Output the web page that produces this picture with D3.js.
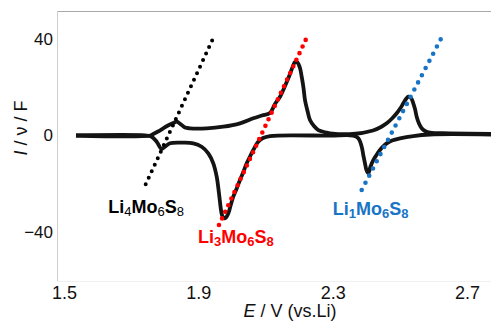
<!DOCTYPE html>
<html>
<head>
<meta charset="utf-8">
<script src="https://cdn.jsdelivr.net/npm/d3@7"></script>
<style>
  body { margin: 0; background: #fff; }
  text { font-family: "Liberation Sans", Arial, sans-serif; }
</style>
</head>
<body>
<svg id="cv"></svg>
<script>
// tick values
var xTicks = [1.5, 1.9, 2.3, 2.7];
var yTicks = [40, 0, -40];

// anodic sweep (left -> right): potential (V), current I/v/F
var anodicE = [1.5357, 1.7561, 1.7659, 1.780, 1.7957, 1.8097, 1.8255, 1.8356, 1.8424, 1.8505, 1.8603, 1.8752,
  1.9249, 1.9743, 2.0241, 2.0637, 2.0896, 2.1134, 2.1283, 2.1432, 2.1581, 2.1730, 2.1819, 2.1879, 2.1953,
  2.2027, 2.2078, 2.2132, 2.2176, 2.2251, 2.2325, 2.2444, 2.2572, 2.2772, 2.2921, 2.3606, 2.4201, 2.4439,
  2.4609, 2.4767, 2.4907, 2.5020, 2.5104, 2.5184, 2.5252, 2.5333, 2.5401, 2.5452, 2.5502, 2.5571, 2.5651,
  2.5749, 2.5898, 2.6494, 2.7715];
var anodicI = [0, 0, 0.62, 1.66, 2.99, 4.15, 5.19, 5.73, 5.19, 4.36, 3.32, 2.99,
  2.99, 3.65, 5.06, 7.14, 8.30, 9.34, 13.07, 16.10, 20.54, 25.52, 28.84, 30.50, 30.29,
  28.01, 24.40, 19.71, 14.73, 10.17, 6.43, 3.94, 2.28, 1.33, 0.91, 0.62, 2.07, 3.53,
  5.06, 7.05, 9.21, 11.41, 13.36, 15.15, 16.10, 15.56, 13.36, 11.00, 7.80, 4.98, 2.99,
  1.87, 1.16, 0.91, 0.62];

// cathodic sweep (right -> left)
var cathodicE = [2.7715, 2.5898, 2.5401, 2.5005, 2.4767, 2.4609, 2.4499, 2.4409, 2.4305, 2.4210, 2.4127,
  2.4061, 2.4007, 2.3963, 2.3912, 2.3865, 2.3764, 2.3615, 2.2921, 2.1134, 2.0926, 2.0777, 2.0637, 2.0539,
  2.0441, 2.0340, 2.0241, 2.0143, 2.0041, 1.9958, 1.9893, 1.9824, 1.9764, 1.9705, 1.9675, 1.9615, 1.9547,
  1.9446, 1.9297, 1.9100, 1.8850, 1.8552, 1.8156, 1.8007, 1.7909, 1.7760, 1.7611, 1.7412, 1.5357];
var cathodicI = [0.41, 0.41, -0.21, -1.16, -2.07, -3.24, -4.56, -6.02, -8.09, -10.17, -12.86,
  -15.68, -14.32, -11.54, -8.09, -4.65, -1.16, -0.08, -0.08, -0.21, -1.04, -2.70, -6.02, -8.71,
  -11.54, -15.15, -18.46, -21.99, -25.39, -29.25, -32.28, -34.02, -34.36, -32.99, -30.91, -23.98, -17.10,
  -11.54, -7.39, -4.65, -3.24, -2.99, -3.24, -4.65, -5.6, -2.57, -0.50, 0, 0];

// guide lines: start/end potential and current
var guideNames = ["Li4", "Li3", "Li1"];
var guideE = [[1.7433, 1.9496], [1.9615, 2.2275], [2.3865, 2.6295]];
var guideI = [[-20.25, 41.99], [-37.14, 41.99], [-22.61, 41.99]];

var width = 491, height = 323;
var mLeft = 57, mTop = 11, mBottom = 281;

var svg = d3.select("#cv")
    .attr("width", width)
    .attr("height", height);

var x = d3.scaleLinear().domain([1.4792, 2.7715]).range([mLeft, width]);
var y = d3.scaleLinear().domain([-60.37, 51.66]).range([mBottom, mTop]);

// frame
svg.append("line").attr("x1", mLeft).attr("x2", width).attr("y1", mTop + 0.5).attr("y2", mTop + 0.5)
    .style("stroke", "#a8a8a8").style("stroke-width", 1.2);
svg.append("line").attr("x1", mLeft + 0.5).attr("x2", mLeft + 0.5).attr("y1", mTop).attr("y2", mBottom)
    .style("stroke", "#cfcfcf").style("stroke-width", 1);
svg.append("line").attr("x1", mLeft).attr("x2", width).attr("y1", mBottom + 0.5).attr("y2", mBottom + 0.5)
    .style("stroke", "#f0f0f0").style("stroke-width", 1);

var xAxis = d3.axisBottom(x).tickValues(xTicks).tickSize(0).tickPadding(5)
    .tickFormat(d3.format(".1f"));
var yAxis = d3.axisLeft(y).tickValues(yTicks).tickSize(0).tickPadding(4);

svg.append("g")
    .attr("transform", "translate(0," + mBottom + ")")
    .call(xAxis)
    .call(function(g) { g.select(".domain").remove(); })
  .selectAll("text")
    .style("font-size", "18px")
    .style("font-family", "Liberation Sans, Arial, sans-serif")
    .style("fill", "#111");

svg.append("g")
    .attr("transform", "translate(" + mLeft + ",0)")
    .call(yAxis)
    .call(function(g) { g.select(".domain").remove(); })
  .selectAll("text")
    .style("font-size", "17px")
    .style("font-family", "Liberation Sans, Arial, sans-serif")
    .style("fill", "#111");

// axis titles
var xt = svg.append("text")
    .attr("x", 290).attr("y", 317)
    .attr("text-anchor", "middle")
    .style("font-size", "18px").style("fill", "#111");
xt.append("tspan").style("font-style", "italic").text("E");
xt.append("tspan").text(" / V (vs.Li)");

var yt = svg.append("text")
    .attr("transform", "translate(26.5,128) rotate(-90)")
    .attr("text-anchor", "middle")
    .style("font-size", "18px").style("fill", "#111");
yt.append("tspan").style("font-style", "italic").text("I");
yt.append("tspan").text(" / ν / F");

// CV curve
var anodic = anodicE.map(function(e, i) { return [e, anodicI[i]]; });
var cathodic = cathodicE.map(function(e, i) { return [e, cathodicI[i]]; });

var line = d3.line()
    .x(function(d) { return x(d[0]); })
    .y(function(d) { return y(d[1]); })
    .curve(d3.curveCatmullRom.alpha(0.5));

[anodic, cathodic].forEach(function(seg) {
  svg.append("path")
      .datum(seg)
      .attr("d", line)
      .style("fill", "none")
      .style("stroke", "#141414")
      .style("stroke-width", 3.8)
      .style("stroke-linejoin", "round");
});

// dotted guide lines
var guideColors = ["#000000", "#ff0000", "#1874c6"];
var guideGap = [7.2, 7.3, 8.1];
guideNames.forEach(function(n, i) {
  svg.append("line")
      .attr("x1", x(guideE[i][0])).attr("y1", y(guideI[i][0]))
      .attr("x2", x(guideE[i][1])).attr("y2", y(guideI[i][1]))
      .style("stroke", guideColors[i])
      .style("stroke-width", i == 0 ? 4 : 4.6)
      .style("stroke-linecap", "round")
      .style("stroke-dasharray", "0 " + guideGap[i]);
});

// phase labels
var labelSub = [["4", "6", "8"], ["3", "6", "8"], ["1", "6", "8"]];
var labelPos = [[1.6319, -32.28], [1.899, -44.6], [2.3001, -32.78]];
labelSub.forEach(function(s, i) {
  var t = svg.append("text")
      .attr("x", x(labelPos[i][0])).attr("y", y(labelPos[i][1]))
      .style("font-size", "18px").style("font-weight", "bold")
      .style("fill", guideColors[i]);
  t.append("tspan").text("Li");
  t.append("tspan").attr("dy", 3).style("font-size", "13px")
      .style("font-weight", i == 0 ? "normal" : "bold").text(s[0]);
  t.append("tspan").attr("dy", -3).text("Mo");
  t.append("tspan").attr("dy", 3).style("font-size", "13px")
      .style("font-weight", i == 0 ? "normal" : "bold").text(s[1]);
  t.append("tspan").attr("dy", -3).text("S");
  t.append("tspan").attr("dy", 3).style("font-size", "13px")
      .style("font-weight", i == 0 ? "normal" : "bold").text(s[2]);
});
</script>
</body>
</html>
